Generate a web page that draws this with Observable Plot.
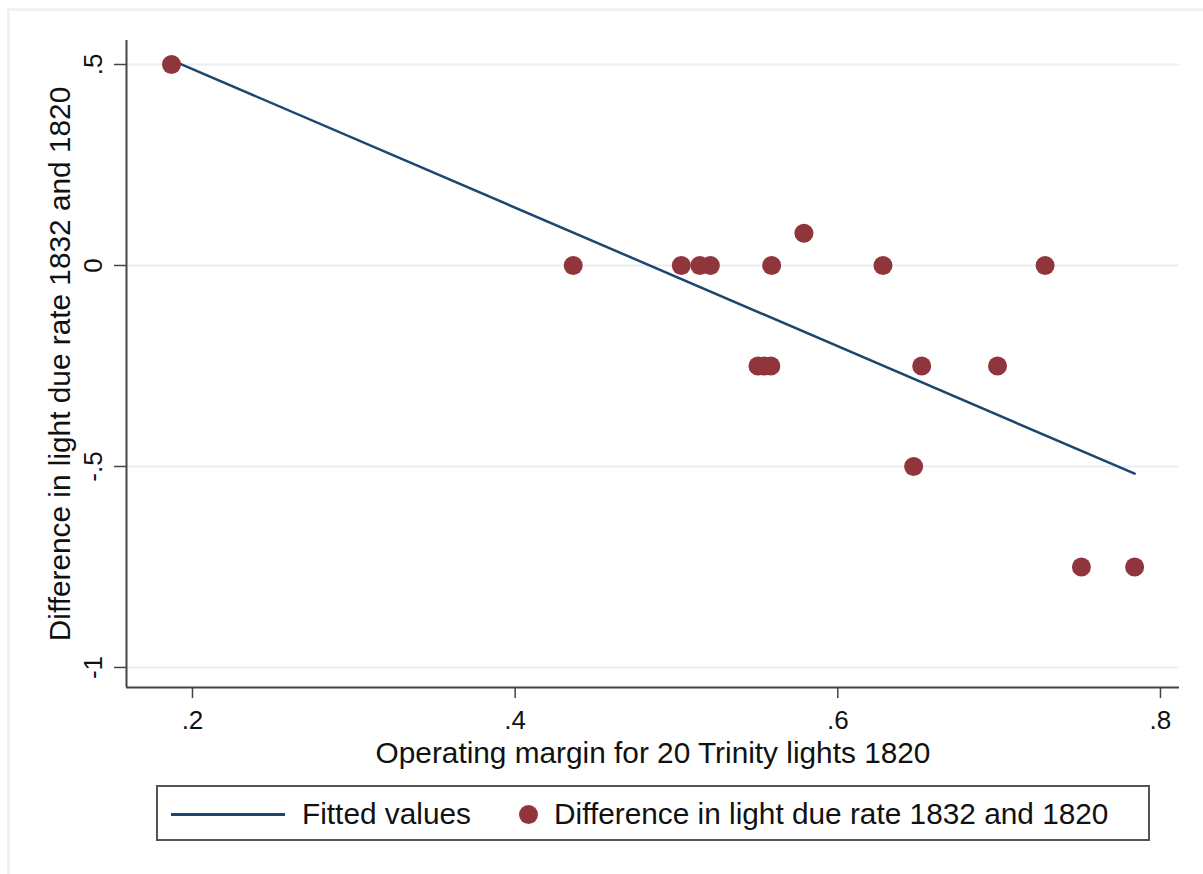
<!DOCTYPE html>
<html>
<head>
<meta charset="utf-8">
<script src="https://cdn.jsdelivr.net/npm/d3@7"></script>
<script src="https://cdn.jsdelivr.net/npm/@observablehq/plot@0.6"></script>
<style>
  html, body { margin: 0; padding: 0; background: #fff; }
  body { width: 1203px; height: 874px; overflow: hidden; position: relative; font-family: "Liberation Sans", Arial, sans-serif; }
  #frame { position: absolute; left: 7px; top: 8px; width: 1300px; height: 1000px; border-left: 3px solid #edf2f5; border-top: 3px solid #edf2f5; box-sizing: border-box; }
  #chart { position: absolute; left: 0; top: 0; }
  #legend { position: absolute; left: 156px; top: 785px; width: 994px; height: 56px; box-sizing: border-box; border: 2px solid #555; background: #fff; font-size: 29.8px; color: #111; }
  #legend .sw-line { position: absolute; left: 13px; top: 26px; width: 114px; height: 3px; background: #1a476f; }
  #legend .t1 { position: absolute; left: 144px; top: 10px; }
  #legend .sw-dot { position: absolute; left: 361px; top: 18px; width: 19px; height: 19px; border-radius: 50%; background: #90353b; }
  #legend .t2 { position: absolute; left: 396px; top: 10px; }
</style>
</head>
<body>
<div id="frame"></div>
<div id="chart"></div>
<div id="legend">
  <div class="sw-line"></div><div class="t1">Fitted values</div>
  <div class="sw-dot"></div><div class="t2">Difference in light due rate 1832 and 1820</div>
</div>
<script>
// Observed data: operating margin (x) vs. difference in light due rate (y)
const margin = [0.187, 0.436, 0.503, 0.5145, 0.521, 0.559, 0.579, 0.628, 0.7285,
                0.5505, 0.5545, 0.5585, 0.652, 0.699, 0.647, 0.751, 0.784];
const diffRate = [0.5, 0, 0, 0, 0, 0, 0.08, 0, 0,
                  -0.25, -0.25, -0.25, -0.25, -0.25, -0.5, -0.75, -0.75];
// Fitted values (linear fit endpoints)
const fitX = [0.187, 0.784];
const fitY = [0.511, -0.518];
// Axis ticks
const xTicks = [0.2, 0.4, 0.6, 0.8];
const yTicks = [-1, -0.5, 0, 0.5];
const xDomain = [0.1591, 0.8118];
const yDomain = [-1.0498, 0.5597];

const points = margin.map((x, i) => ({x, y: diffRate[i]}));
const fitted = fitX.map((x, i) => ({x, y: fitY[i]}));
const fmt = d => d === 0 ? "0" : String(d).replace("0.", ".");

const chart = Plot.plot({
  width: 1203,
  height: 770,
  marginLeft: 126,
  marginRight: 24,
  marginTop: 40,
  marginBottom: 83,
  style: { fontFamily: "Liberation Sans, Arial, sans-serif", background: "transparent", color: "#111" },
  x: { domain: xDomain },
  y: { domain: yDomain },
  marks: [
    Plot.gridY(yTicks, { stroke: "#e8f0f2", strokeOpacity: 1, strokeWidth: 2 }),
    Plot.ruleX([xDomain[0]], { stroke: "#444", strokeWidth: 2 }),
    Plot.ruleY([yDomain[0]], { stroke: "#444", strokeWidth: 2 }),
    Plot.axisX(xTicks, {
      tickFormat: fmt, tickSize: 11, tickPadding: 12, fontSize: 26, stroke: "#444", strokeWidth: 1.5,
      label: "Operating margin for 20 Trinity lights 1820", labelAnchor: "center", labelArrow: "none", labelOffset: 75
    }),
    Plot.axisY(yTicks, {
      tickFormat: fmt, tickSize: 12, tickPadding: 13, fontSize: 26, tickRotate: -90, stroke: "#444", strokeWidth: 1.5,
      label: "Difference in light due rate 1832 and 1820", labelAnchor: "center", labelArrow: "none", labelOffset: 78
    }),
    Plot.line(fitted, { x: "x", y: "y", stroke: "#1a476f", strokeWidth: 2.5 }),
    Plot.dot(points, { x: "x", y: "y", r: 9.5, fill: "#90353b", stroke: "none" })
  ]
});
chart.querySelectorAll("g[aria-label='x-axis label'] text, g[aria-label='y-axis label'] text").forEach(t => t.setAttribute("font-size", "29.8"));
document.getElementById("chart").appendChild(chart);
</script>
</body>
</html>
